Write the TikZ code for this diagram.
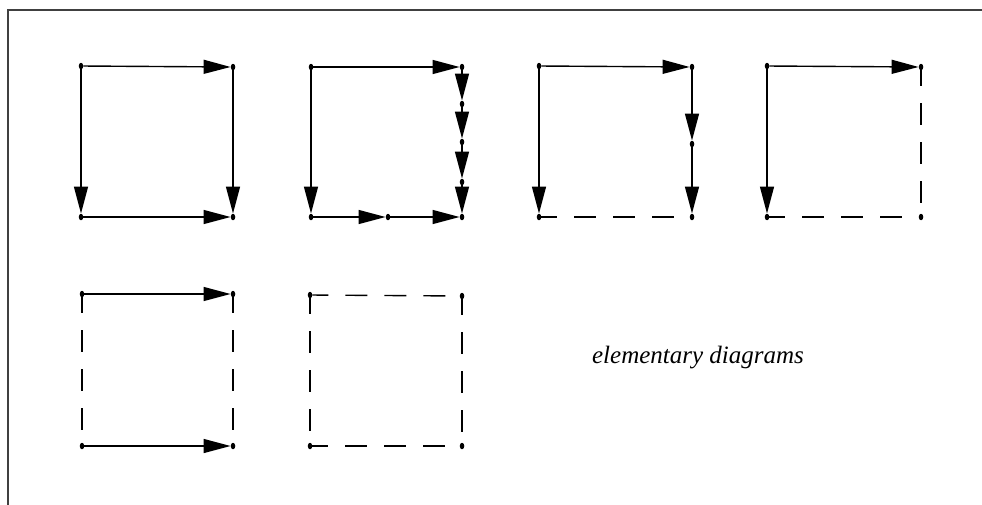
\documentclass[tikz,border=0pt]{standalone}
\usepackage{fontspec}
\setmainfont{Liberation Serif}
\usetikzlibrary{arrows.meta,shapes.geometric}
\tikzset{
  pt/.style={ellipse,fill=black,inner sep=0pt,minimum width=4.5pt,minimum height=6.5pt},
  arr/.style={line width=1.4pt,-{Triangle[length=27pt,width=14pt]}},
  dsh/.style={line width=1.4pt,dash pattern=on 22pt off 17pt,dash phase=6pt},
}
\begin{document}
\begin{tikzpicture}[x=1pt,y=-1pt]
\useasboundingbox (0,0) rectangle (982,504);
\begin{scope}
\clip (0,0) rectangle (982,504);
\draw[line width=2pt,black!75] (8,10) rectangle (990,512);
\end{scope}
% square 1
\node[pt] (a1) at (81,66) {};
\node[pt] (b1) at (233,67) {};
\node[pt] (c1) at (81,217) {};
\node[pt] (d1) at (233,217) {};
\draw[arr] (a1) -- (b1);
\draw[arr] (a1) -- (c1);
\draw[arr] (b1) -- (d1);
\draw[arr] (c1) -- (d1);
% square 2
\node[pt] (a2) at (311,67) {};
\node[pt] (b2) at (462,67) {};
\node[pt] (c2) at (311,217) {};
\node[pt] (d2) at (462,217) {};
\node[pt] (m2) at (388,217) {};
\node[pt] (r21) at (462,104) {};
\node[pt] (r22) at (462,142) {};
\node[pt] (r23) at (462,182) {};
\draw[arr] (a2) -- (b2);
\draw[arr] (a2) -- (c2);
\draw[arr] (c2) -- (m2);
\draw[arr] (m2) -- (d2);
\draw[arr] (b2) -- (r21);
\draw[arr] (r21) -- (r22);
\draw[arr] (r22) -- (r23);
\draw[arr] (r23) -- (d2);
% square 3
\node[pt] (a3) at (539,66) {};
\node[pt] (b3) at (692,67) {};
\node[pt] (c3) at (539,217) {};
\node[pt] (d3) at (692,217) {};
\node[pt] (r3) at (692,144) {};
\draw[arr] (a3) -- (b3);
\draw[arr] (a3) -- (c3);
\draw[arr] (b3) -- (r3);
\draw[arr] (r3) -- (d3);
\draw[dsh] (c3) -- (d3);
% square 4
\node[pt] (a4) at (767,66) {};
\node[pt] (b4) at (921,67) {};
\node[pt] (c4) at (767,217) {};
\node[pt] (d4) at (921,217) {};
\draw[arr] (a4) -- (b4);
\draw[arr] (a4) -- (c4);
\draw[dsh] (b4) -- (d4);
\draw[dsh] (c4) -- (d4);
% square 5
\node[pt] (a5) at (82,294) {};
\node[pt] (b5) at (233,294) {};
\node[pt] (c5) at (82,446) {};
\node[pt] (d5) at (233,446) {};
\draw[arr] (a5) -- (b5);
\draw[arr] (c5) -- (d5);
\draw[dsh] (a5) -- (c5);
\draw[dsh] (b5) -- (d5);
% square 6
\node[pt] (a6) at (310,295) {};
\node[pt] (b6) at (462,296) {};
\node[pt] (c6) at (310,446) {};
\node[pt] (d6) at (462,446) {};
\draw[dsh] (a6) -- (b6);
\draw[dsh] (a6) -- (c6);
\draw[dsh] (b6) -- (d6);
\draw[dsh] (c6) -- (d6);
% label
\node[font=\fontsize{25}{29}\selectfont\itshape] (lbl) at (698,358) {elementary diagrams};
\end{tikzpicture}
\end{document}
